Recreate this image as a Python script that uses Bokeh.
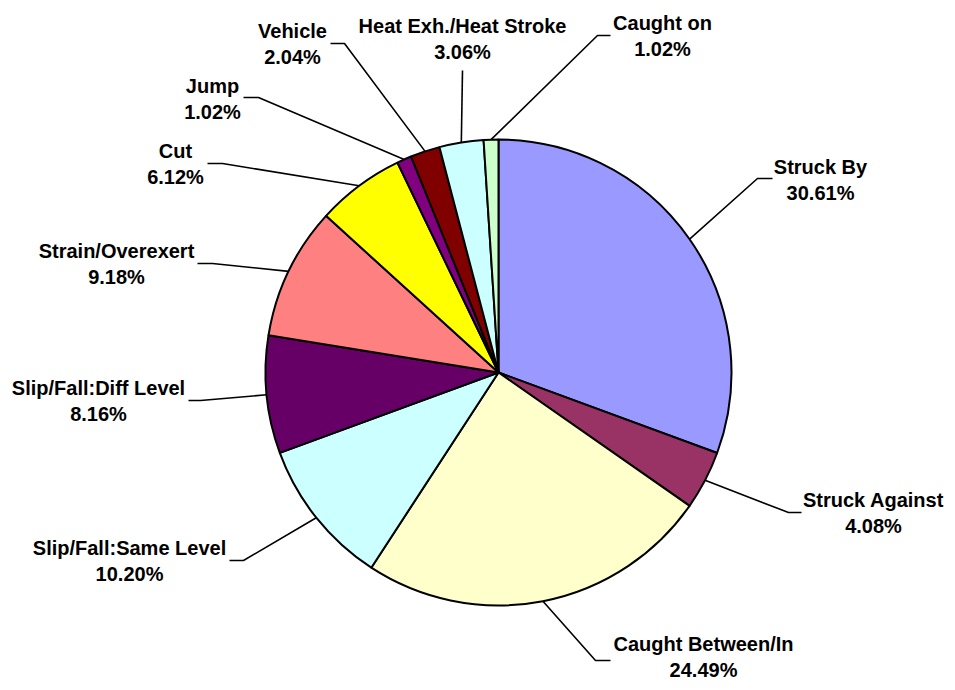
import numpy as np
from bokeh.plotting import figure
from bokeh.models import Range1d, ColumnDataSource
from bokeh.core.properties import value
from bokeh.embed import file_html
from bokeh.resources import INLINE

# ---- data ----
categories = ["Struck By", "Struck Against", "Caught Between/In", "Slip/Fall:Same Level",
              "Slip/Fall:Diff Level", "Strain/Overexert", "Cut", "Jump", "Vehicle",
              "Heat Exh./Heat Stroke", "Caught on"]
percents = [30.61, 4.08, 24.49, 10.20, 8.16, 9.18, 6.12, 1.02, 2.04, 3.06, 1.02]
colors = ["#9999FF", "#993366", "#FFFFCC", "#CCFFFF", "#660066", "#FF8080",
          "#FFFF00", "#800080", "#800000", "#CCFFFF", "#CCFFCC"]

# ---- layout (screen px, origin top-left of figure) ----
W, H = 947, 682
CX, CY, R = 498, 372, 233
# elbow point, end of horizontal segment, label centre (x, y)
elbows = [(757, 178), (788, 512), (595, 660), (243, 560), (200, 400), (212, 263),
          (222, 163), (258, 97), (344, 43), (462, 70), (597, 35)]
ends = [(772, 178), (801, 512), (610, 660), (229, 560), (188, 400), (197, 263),
        (207, 163), (243, 97), (330, 43), (462, 70), (610, 35)]
label_pos = [(820, 179), (873, 512), (703, 656), (129, 560), (98, 400), (116, 263),
             (175, 163), (212, 98), (292, 43), (462, 38), (662, 35)]
LINE_GAP = 13.0


def Y(sy):
    return H - sy


p = figure(width=W, height=H, output_backend="svg", toolbar_location=None,
           x_range=Range1d(0, W), y_range=Range1d(0, H),
           x_axis_location=None, y_axis_location=None, min_border=0)
p.grid.visible = False
p.outline_line_color = None
p.background_fill_color = "white"
p.border_fill_color = "white"

vals = np.array(percents)
frac = vals / vals.sum()
cum_end = np.cumsum(frac)
cum_start = cum_end - frac
start_angle = np.pi / 2 - 2 * np.pi * cum_end
end_angle = np.pi / 2 - 2 * np.pi * cum_start
mid_angle = (start_angle + end_angle) / 2

src = ColumnDataSource(dict(start=start_angle, end=end_angle, color=colors))
p.wedge(x=CX, y=Y(CY), radius=R, radius_units="screen", start_angle="start", end_angle="end",
        direction="anticlock", fill_color="color", line_color="black", line_width=2, source=src)

# leader lines
xs, ys = [], []
for i in range(len(categories)):
    ax = CX + R * np.cos(mid_angle[i])
    ay = Y(CY) + R * np.sin(mid_angle[i])
    xs.append([ax, elbows[i][0], ends[i][0]])
    ys.append([ay, Y(elbows[i][1]), Y(ends[i][1])])
p.multi_line(xs=xs, ys=ys, line_color="black", line_width=1.6)

# labels
tx, ty, tt = [], [], []
for i, c in enumerate(categories):
    lx, ly = label_pos[i]
    tx += [lx, lx]
    ty += [Y(ly - LINE_GAP), Y(ly + LINE_GAP)]
    tt += [c, f"{percents[i]:.2f}%"]
p.text(x=tx, y=ty, text=tt, text_font=value("Liberation Sans"), text_font_style="bold",
       text_font_size="20px", text_align="center", text_baseline="middle", text_color="black")

open("out.html", "w").write(file_html(p, INLINE))
